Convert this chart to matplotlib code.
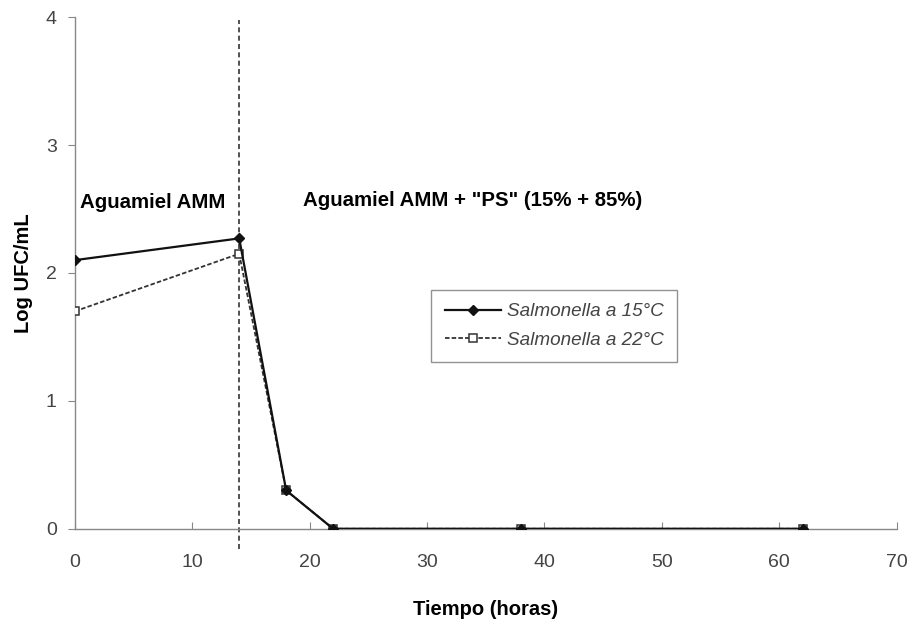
import matplotlib.pyplot as plt

plt.rcParams['font.family'] = ['Liberation Sans', 'DejaVu Sans']

tiempo = [0, 14, 18, 22, 38, 62]
log_15 = [2.10, 2.27, 0.30, 0.0, 0.0, 0.0]
log_22 = [1.70, 2.15, 0.30, 0.0, 0.0, 0.0]
cambio_medio = 14

fig = plt.figure(figsize=(9.13, 6.34), dpi=100)
ax = fig.add_axes([0.082, 0.166, 0.9, 0.807])

ax.plot(tiempo, log_22, linestyle=(0, (2.5, 1.2)), color='#333333', lw=1.3,
        marker='s', markersize=6, markerfacecolor='white', markeredgecolor='#333333',
        markeredgewidth=1.1, label='Salmonella a 22°C', zorder=3)
ax.plot(tiempo, log_15, '-', color='#111111', lw=1.6,
        marker='D', markersize=5, markerfacecolor='#111111',
        label='Salmonella a 15°C', zorder=4)

ax.axvline(cambio_medio, ymin=-0.04, ymax=0.995, color='#333333', lw=1.2,
           linestyle=(0, (3, 2)), clip_on=False, zorder=2)

ax.set_xlim(0, 70)
ax.set_ylim(0, 4)
ax.set_xticks(range(0, 71, 10))
ax.set_yticks(range(0, 5))

for side in ('top', 'right'):
    ax.spines[side].set_visible(False)
for side in ('left', 'bottom'):
    ax.spines[side].set_color('#888888')
    ax.spines[side].set_linewidth(1.0)
ax.tick_params(axis='y', direction='out', length=5, color='#888888',
               labelsize=14, labelcolor='#444444', pad=8)
ax.tick_params(axis='x', direction='in', length=5, color='#888888',
               labelsize=14, labelcolor='#444444', pad=18)

ax.set_xlabel('Tiempo (horas)', fontsize=14.5, fontweight='bold', labelpad=21)
ax.set_ylabel('Log UFC/mL', fontsize=14.5, fontweight='bold', labelpad=9)

ax.text(0.4, 2.55, 'Aguamiel AMM', fontsize=14.7, fontweight='bold', va='center')
ax.text(19.4, 2.57, 'Aguamiel AMM + "PS" (15% + 85%)', fontsize=14.7,
        fontweight='bold', va='center')

handles, labels = ax.get_legend_handles_labels()
leg = ax.legend(handles[::-1], labels[::-1], loc='upper left',
                bbox_to_anchor=(0.434, 0.467), borderaxespad=0, frameon=True,
                fancybox=False, edgecolor='#777777', handlelength=3.0,
                handletextpad=0.3, borderpad=0.7, labelspacing=0.6,
                prop={'style': 'italic', 'size': 13.6})
leg.get_frame().set_linewidth(1.0)
for t in leg.get_texts():
    t.set_color('#444444')

fig.savefig('out.png', dpi=100)
